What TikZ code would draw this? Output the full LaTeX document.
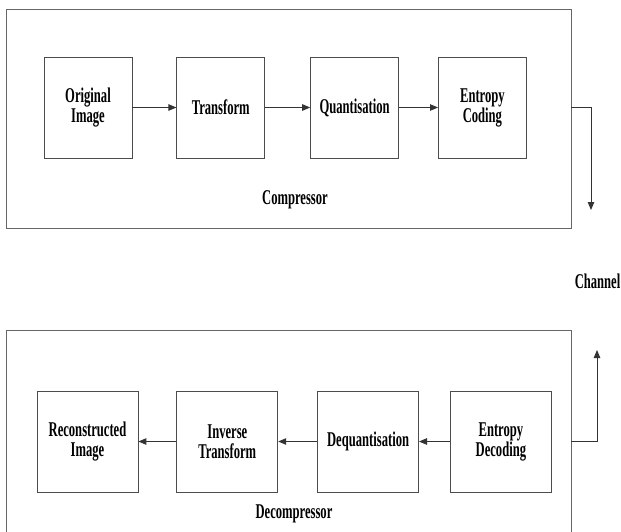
\documentclass[tikz,border=0pt]{standalone}
\usepackage{fontspec}
\setmainfont{Liberation Serif}[FakeStretch=0.6]
\usetikzlibrary{
  arrows.meta,
  positioning,  % right=of, left=of
  calc
}
\tikzset{
  x=1pt, y=-1pt,   % pixel-like units, y going down
  node distance=44pt and 44pt,
  every node/.style = {
    font=\fontsize{21}{20}\selectfont\bfseries
  },
  block/.style = {
    rectangle,
    draw=black!70,
    line width=0.8pt,
    minimum width=88pt,
    minimum height=101pt,
    align=center,
    inner sep=2pt
  },
  wide/.append style = {minimum width=101pt},
  frame/.style = {rectangle, draw=black!60, line width=0.8pt, inner sep=0pt},
  link/.style = {->, draw=black!80, line width=0.9pt},
  every edge/.style = {link},
  >={Triangle[length=8pt,width=6.5pt]}  % arrow type
}

\begin{document}
\begin{tikzpicture}
\clip (0,0) rectangle (621,531);

% compressor
\node[frame, minimum width=565pt, minimum height=219pt] (comp) at (288.5,118.5) {};
\node[block] (orig) at (88,107.5) {Original\\Image};
\node[block, right=44pt of orig] (trans) {Transform};
\node[block, right=45pt of trans] (quant) {Quantisation};
\node[block, right=39pt of quant] (code) {Entropy\\Coding};
\node (complabel) at (295,200) {Compressor};

% decompressor
\node[frame, minimum width=565pt, minimum height=215pt] (decomp) at (288.5,437.5) {};
\node[block, wide] (recon) at (87.5,441.5) {Reconstructed\\Image};
\node[block, wide, right=38pt of recon] (inv) {Inverse\\Transform};
\node[block, wide, right=39pt of inv] (deq) {Dequantisation};
\node[block, wide, right=31pt of deq] (dec) {Entropy\\Decoding};
\node (decomplabel) at (294,514) {Decompressor};

\node (channel) at (597.5,281) {Channel};

\path (orig) edge (trans)
      (trans) edge (quant)
      (quant) edge (code)
      (dec) edge (deq)
      (deq) edge (inv)
      (inv) edge (recon);

% to and from the channel
\coordinate (down) at (591,210);
\coordinate (up) at (597,350);
\draw[link] (comp.east |- code.east) -| (down);
\draw[link] (decomp.east |- dec.east) -| (up);
\end{tikzpicture}
\end{document}
